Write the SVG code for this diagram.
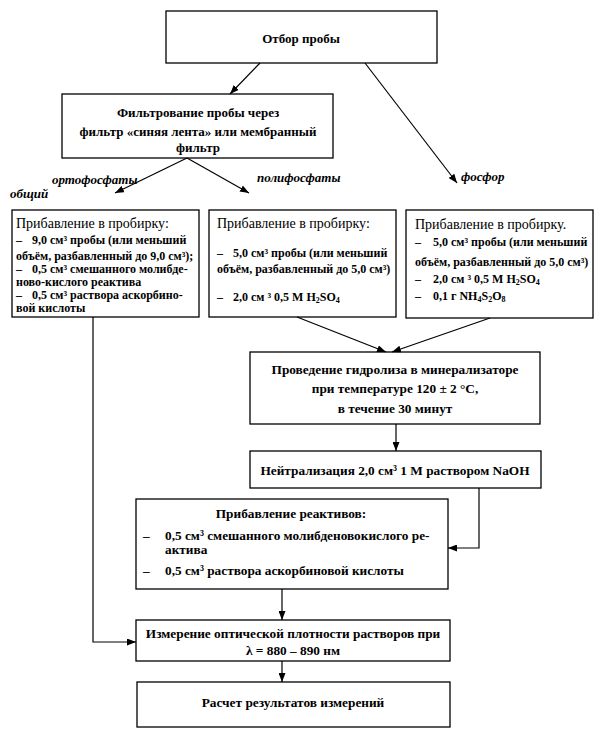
<svg xmlns="http://www.w3.org/2000/svg" width="603" height="738" viewBox="0 0 603 738" font-family="'Liberation Serif', 'Times New Roman', serif">
<style>
rect{fill:#fff;stroke:#000;stroke-width:1.3}
text{font-family:"Liberation Serif","Times New Roman",serif;fill:#000}
.b{font-weight:bold;font-size:13px}
.m{text-anchor:middle}
.i{font-weight:bold;font-style:italic;font-size:13px}
.h{font-size:14px}
.s{font-weight:bold;font-size:12px}
.r{font-weight:bold;font-size:13.3px}
.c line,.c polyline{stroke:#000;stroke-width:1.2;fill:none;marker-end:url(#a)}
.sub{font-size:8px}
</style>
<defs>
<marker id="a" markerUnits="userSpaceOnUse" markerWidth="9" markerHeight="7" refX="9" refY="3.5" orient="auto"><path d="M0,0 L9,3.5 L0,7 z" fill="#000"/></marker>
</defs>
<g id="n1"><rect x="166" y="11" width="271" height="52"/><text class="b m" x="301" y="43">Отбор пробы</text></g>
<g id="n2"><rect x="62" y="94" width="271" height="64"/>
<text class="b m" x="198" y="117">Фильтрование пробы через</text>
<text class="b m" x="198" y="136">фильтр «синяя лента» или мембранный</text>
<text class="b m" x="198" y="152">фильтр</text></g>
<g id="l1"><text class="i" x="52" y="184">ортофосфаты</text></g>
<g id="l2"><text class="i" x="10" y="198">общий</text></g>
<g id="l3"><text class="i" x="257" y="182">полифосфаты</text></g>
<g id="l4"><text class="i" x="461" y="181">фосфор</text></g>
<g id="n3"><rect x="12" y="210" width="187" height="107"/>
<text class="h" x="16" y="228">Прибавление в пробирку:</text>
<text class="s" x="16" y="244">–</text><text class="s" x="32" y="244">9,0 см³ пробы (или меньший</text>
<text class="s" x="16" y="260">объём, разбавленный до 9,0 см³);</text>
<text class="s" x="16" y="273">–</text><text class="s" x="32" y="273">0,5 см³ смешанного молибде-</text>
<text class="s" x="16" y="286">ново-кислого реактива</text>
<text class="s" x="16" y="299">–</text><text class="s" x="32" y="299">0,5 см³ раствора аскорбино-</text>
<text class="s" x="16" y="312">вой кислоты</text></g>
<g id="n4"><rect x="209" y="210" width="187" height="107"/>
<text class="h" x="217" y="228">Прибавление в пробирку:</text>
<text class="s" x="217" y="257">–</text><text class="s" x="233" y="257">5,0 см³ пробы (или меньший</text>
<text class="s" x="217" y="273">объём, разбавленный до 5,0 см³)</text>
<text class="s" x="217" y="301">–</text><text class="s" x="233" y="301">2,0 см ³ 0,5 M H<tspan class="sub" dy="2">2</tspan><tspan dy="-2">SO</tspan><tspan class="sub" dy="2">4</tspan></text></g>
<g id="n5"><rect x="406" y="210" width="187" height="108"/>
<text class="h" x="415" y="229">Прибавление в пробирку.</text>
<text class="s" x="415" y="246">–</text><text class="s" x="433" y="246">5,0 см³ пробы (или меньший</text>
<text class="s" x="415" y="266">объём, разбавленный до 5,0 см³)</text>
<text class="s" x="415" y="283">–</text><text class="s" x="433" y="283">2,0 см ³ 0,5 M H<tspan class="sub" dy="2">2</tspan><tspan dy="-2">SO</tspan><tspan class="sub" dy="2">4</tspan></text>
<text class="s" x="415" y="300">–</text><text class="s" x="433" y="300">0,1 г NH<tspan class="sub" dy="2">4</tspan><tspan dy="-2">S</tspan><tspan class="sub" dy="2">2</tspan><tspan dy="-2">O</tspan><tspan class="sub" dy="2">8</tspan></text></g>
<g id="n6"><rect x="250" y="352" width="290" height="72"/>
<text class="r m" x="395" y="374">Проведение гидролиза в минерализаторе</text>
<text class="r m" x="395" y="393">при температуре 120 ± 2 °С,</text>
<text class="r m" x="395" y="413">в течение 30 минут</text></g>
<g id="n7"><rect x="250" y="451" width="291" height="37"/>
<text class="r m" x="395" y="475">Нейтрализация 2,0 см³ 1 М раствором NaOH</text></g>
<g id="n8"><rect x="136" y="499" width="312" height="90"/>
<text class="r m" x="291" y="518">Прибавление реактивов:</text>
<text class="r" x="143" y="540">–</text><text class="r" x="165" y="540">0,5 см³ смешанного молибденовокислого ре-</text>
<text class="r" x="165" y="554">актива</text>
<text class="r" x="143" y="575">–</text><text class="r" x="165" y="575">0,5 см³ раствора аскорбиновой кислоты</text></g>
<g id="n9"><rect x="136" y="620" width="314" height="41"/>
<text class="r m" x="293" y="638">Измерение оптической плотности растворов при</text>
<text class="r m" x="293" y="655">λ = 880 – 890 нм</text></g>
<g id="n10"><rect x="137" y="682" width="313" height="45"/>
<text class="r m" x="293" y="707">Расчет результатов измерений</text></g>
<g id="connectors" class="c">
<line x1="260" y1="63" x2="230" y2="94"/>
<line x1="365" y1="63" x2="457" y2="183"/>
<line x1="187" y1="158" x2="115" y2="193"/>
<line x1="187" y1="158" x2="249" y2="193"/>
<line x1="297" y1="317" x2="386" y2="352"/>
<line x1="490" y1="318" x2="392" y2="352"/>
<line x1="396" y1="424" x2="396" y2="451"/>
<polyline points="479,488 479,548 448,548"/>
<line x1="282" y1="589" x2="282" y2="620"/>
<polyline points="93,317 93,642 136,642"/>
<line x1="282" y1="661" x2="282" y2="682"/>
</g>
</svg>
